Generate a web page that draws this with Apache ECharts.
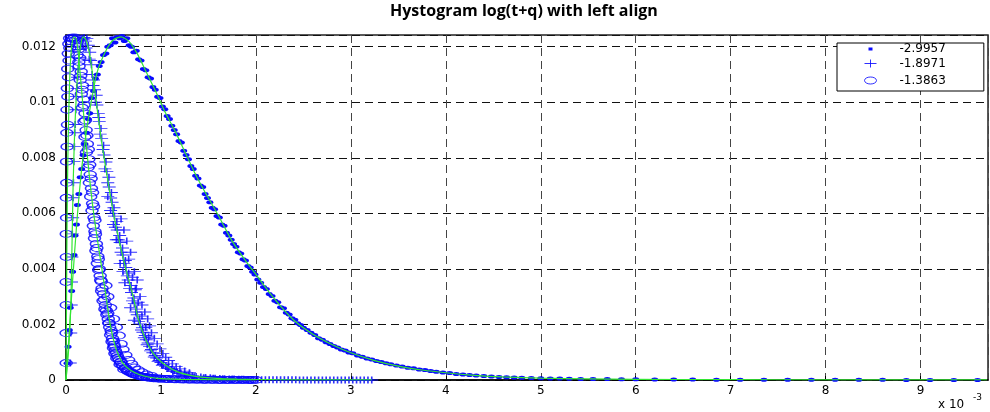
<!DOCTYPE html>
<html>
<head>
<meta charset="utf-8">
<script src="https://cdn.jsdelivr.net/npm/echarts@6/dist/echarts.min.js"></script>
<style>
  html, body { margin: 0; padding: 0; background: #fff; }
  #chart { width: 990px; height: 412px; }
</style>
</head>
<body>
<div id="chart"></div>
<script>
// Histograms of log(t+q), left-aligned bins.
// x values are in units of 1e-3 (axis shows "x 10^-3"), y values in units of 1e-3.

const titleText = 'Hystogram log(t+q) with left align';
const seriesNames = ['-2.9957', '-1.8971', '-1.3863'];
const xTickLabels = ['0', '1', '2', '3', '4', '5', '6', '7', '8', '9'];
const yTickLabels = ['0', '0.002', '0.004', '0.006', '0.008', '0.01', '0.012'];

// '.' markers  (-2.9957)
const dotPoints = [
  [0.012,0.6],[0.022,1.2],[0.035,1.8],[0.045,2.6],[0.06,3.2],[0.07,3.9],[0.085,4.5],[0.095,5.2],
  [0.11,5.6],[0.12,6.3],[0.135,6.7],[0.15,7.3],[0.165,7.6],[0.18,8.1],[0.2,8.5],[0.215,8.9],
  [0.235,9.4],[0.25,9.6],[0.27,10.15],[0.29,10.4],[0.31,10.85],[0.33,11.0],[0.35,11.3],[0.37,11.45],
  [0.395,11.7],[0.42,11.75],[0.44,12.0],[0.465,12.05],[0.49,12.3],[0.515,12.15],[0.54,12.35],[0.565,12.3],
  [0.59,12.38],[0.615,12.2],[0.64,12.3],[0.665,12.05],[0.69,12.0],[0.715,11.8],[0.74,11.85],[0.765,11.55],
  [0.79,11.5],[0.815,11.2],[0.84,11.15],[0.865,10.9],[0.89,10.85],[0.915,10.55],[0.94,10.45],[0.965,10.2],
  [0.99,10.15],[1.015,9.85],[1.04,9.75],[1.065,9.5],[1.09,9.4],[1.115,9.15],[1.14,9.0],[1.165,8.85],
  [1.19,8.6],[1.215,8.55],[1.24,8.25],[1.265,8.1],[1.29,7.95],[1.315,7.7],[1.34,7.6],[1.365,7.35],
  [1.39,7.25],[1.415,7.0],[1.44,6.95],[1.465,6.7],[1.49,6.55],[1.515,6.4],[1.54,6.2],[1.565,6.15],
  [1.59,5.9],[1.615,5.85],[1.64,5.6],[1.665,5.55],[1.69,5.3],[1.715,5.2],[1.74,5.05],[1.765,4.9],
  [1.79,4.8],[1.815,4.6],[1.84,4.55],[1.865,4.35],[1.89,4.3],[1.915,4.1],[1.94,4.05],[1.965,3.9],
  [1.99,3.8],[2.02,3.62],[2.05,3.5],[2.08,3.35],[2.11,3.28],[2.14,3.1],[2.17,3.02],[2.2,2.85],
  [2.23,2.8],[2.26,2.62],[2.29,2.58],[2.32,2.42],[2.35,2.36],[2.38,2.22],[2.41,2.17],[2.44,2.04],
  [2.47,1.98],[2.5,1.88],[2.54,1.8],[2.58,1.7],[2.62,1.62],[2.66,1.5],[2.7,1.45],[2.74,1.36],
  [2.78,1.3],[2.82,1.22],[2.86,1.17],[2.9,1.1],[2.94,1.06],[2.98,0.99],[3.02,0.96],[3.07,0.88],
  [3.12,0.84],[3.17,0.77],[3.22,0.74],[3.27,0.68],[3.32,0.65],[3.37,0.6],[3.42,0.57],[3.48,0.52],
  [3.54,0.49],[3.6,0.44],[3.66,0.42],[3.72,0.38],[3.78,0.36],[3.84,0.32],[3.9,0.3],[3.97,0.27],
  [4.04,0.25],[4.11,0.22],[4.18,0.2],[4.25,0.18],[4.32,0.16],[4.4,0.14],[4.48,0.13],[4.56,0.11],
  [4.64,0.1],[4.72,0.09],[4.8,0.08],[4.9,0.07],[5.0,0.065],[5.1,0.055],[5.2,0.05],[5.3,0.045],
  [5.42,0.04],[5.55,0.036],[5.7,0.032],[5.85,0.028],[6.0,0.025],[6.2,0.021],[6.4,0.018],[6.6,0.016],
  [6.85,0.013],[7.1,0.011],[7.35,0.01],[7.6,0.008],[7.85,0.007],[8.1,0.006],[8.35,0.005],[8.6,0.005],
  [8.85,0.004],[9.1,0.004],[9.35,0.003],[9.6,0.003]
];

// '+' markers  (-1.8971)
const plusPoints = [
  [0.045,0.61],[0.05,1.69],[0.055,2.7],[0.058,3.53],[0.062,4.43],[0.066,5.26],[0.07,5.84],[0.074,6.56],
  [0.078,7.1],[0.083,7.86],[0.088,8.4],[0.092,8.9],[0.097,9.2],[0.103,9.73],[0.11,10.2],[0.115,10.5],
  [0.122,10.9],[0.13,11.2],[0.138,11.6],[0.146,11.9],[0.155,12.1],[0.168,12.3],[0.18,12.25],[0.19,12.33],
  [0.205,12.2],[0.22,12.3],[0.235,12.05],[0.25,11.8],[0.245,11.55],[0.268,11.35],[0.275,11.0],[0.29,10.8],
  [0.3,10.45],[0.318,10.25],[0.325,9.9],[0.34,9.6],[0.35,9.3],[0.368,9.05],[0.375,8.7],[0.395,8.45],
  [0.4,8.1],[0.42,7.85],[0.43,7.5],[0.452,7.3],[0.455,6.95],[0.478,6.75],[0.485,6.4],[0.505,6.2],
  [0.51,5.9],[0.535,5.7],[0.54,5.4],[0.565,5.2],[0.57,4.95],[0.595,4.75],[0.6,4.5],[0.625,4.3],
  [0.63,4.05],[0.66,3.85],[0.655,3.6],[0.685,3.4],[0.69,3.15],[0.715,2.95],[0.72,2.75],[0.745,2.55],
  [0.75,2.35],[0.775,2.2],[0.78,2.02],[0.805,1.88],[0.81,1.72],[0.835,1.6],[0.845,1.45],[0.865,1.33],
  [0.88,1.2],[0.9,1.1],[0.915,0.98],[0.94,0.88],[0.955,0.79],[0.98,0.7],[1.0,0.63],[1.025,0.56],
  [1.05,0.49],[1.08,0.43],[1.11,0.38],[1.14,0.33],[1.17,0.29],[1.21,0.25],[1.25,0.21],[1.29,0.18],
  [1.33,0.15],[1.37,0.13],[1.42,0.11],[1.47,0.09],[1.52,0.08],[1.57,0.065],[1.62,0.055],[1.67,0.047],
  [1.72,0.04],[1.77,0.034],[1.82,0.029],[1.87,0.025],[1.92,0.021],[1.97,0.018],[2.02,0.016],[2.06,0.013],
  [2.1,0.012],[2.14,0.01],[2.18,0.009],[2.22,0.008],[2.26,0.007],[2.3,0.007],[2.34,0.006],[2.38,0.005],
  [2.42,0.005],[2.46,0.004],[2.5,0.004],[2.54,0.004],[2.58,0.003],[2.62,0.003],[2.66,0.003],[2.7,0.003],
  [2.74,0.002],[2.78,0.002],[2.82,0.002],[2.86,0.002],[2.9,0.002],[2.94,0.002],[2.98,0.001],[3.02,0.001],
  [3.06,0.001],[3.1,0.001],[3.14,0.001],[3.18,0.001],[3.22,0.001],
  [0.21,11.95],[0.26,11.5],[0.285,10.6],[0.31,10.0],[0.345,9.45],[0.36,8.85],[0.39,8.3],[0.41,7.6],
  [0.44,7.1],[0.47,6.55],[0.495,6.0],[0.52,5.5],[0.55,5.05],[0.58,4.6],[0.61,4.2],[0.645,3.75],
  [0.67,3.3],[0.70,2.85],[0.735,2.45],[0.765,2.1],[0.795,1.8],[0.825,1.52],[0.855,1.27],[0.89,1.05],
  [0.93,0.83],[0.97,0.67],[1.015,0.53],[1.065,0.41],[1.125,0.31],[1.19,0.23],[1.27,0.17],[1.35,0.12],
  [1.45,0.085],[1.55,0.06],[1.65,0.045],[1.75,0.033],[1.85,0.024],[1.95,0.017],
  [0.66,4.35],[0.7,3.7],[0.73,3.25],[0.76,2.8],[0.8,2.3],[0.57,4.2],[0.6,3.9],[0.62,3.5],
  [0.68,2.6],[0.72,2.15],[0.84,1.9],[0.87,1.55],[0.53,5.05],[0.5,5.6],[0.47,6.1],[0.44,6.6],
  [0.72,3.9],[0.75,3.6],[0.74,3.3],[0.78,3.0],[0.8,2.7],[0.83,2.45],[0.86,2.2],[0.88,1.95],
  [0.9,1.7],[0.93,1.5],[0.96,1.3],[0.99,1.12],[1.02,0.95],[1.05,0.82],[1.08,0.7],[1.12,0.58],
  [1.16,0.48],[1.2,0.4],[1.25,0.32],[1.3,0.26],[0.68,4.6],[0.64,5.0],[0.61,5.4],[0.58,5.8]
];

// 'o' markers  (-1.3863)
const circlePoints = [
  [0.002,0.61],[0.001,1.69],[0.003,2.7],[0.002,3.53],[0.004,4.43],[0.003,5.26],[0.006,5.84],[0.004,6.56],
  [0.008,7.1],[0.006,7.86],[0.012,8.4],[0.009,8.9],[0.016,9.19],[0.011,9.73],[0.02,10.2],[0.014,10.5],
  [0.026,10.9],[0.018,11.2],[0.032,11.5],[0.024,11.75],[0.04,11.95],[0.03,12.1],[0.05,12.2],[0.038,12.3],
  [0.06,12.32],[0.075,12.28],[0.088,12.33],[0.1,12.25],
  [0.11,12.1],[0.125,12.3],[0.13,11.9],[0.118,11.7],[0.145,11.6],[0.138,11.3],[0.16,11.1],[0.15,10.8],
  [0.175,10.6],[0.162,10.3],[0.185,10.1],[0.172,9.8],[0.2,9.6],[0.19,9.3],[0.212,9.0],[0.2,8.75],
  [0.225,8.5],[0.215,8.2],[0.24,7.95],[0.232,7.65],[0.255,7.4],[0.246,7.1],[0.268,6.9],[0.26,6.6],
  [0.28,6.35],[0.274,6.1],[0.295,5.85],[0.288,5.55],[0.305,5.35],[0.3,5.1],[0.32,4.9],[0.315,4.65],
  [0.335,4.45],[0.33,4.2],[0.35,4.0],[0.36,3.75],[0.372,3.55],[0.38,3.3],[0.395,3.1],[0.405,2.9],
  [0.415,2.7],[0.425,2.5],[0.43,2.35],[0.445,2.2],[0.45,2.05],[0.46,1.9],[0.475,1.78],[0.47,1.62],
  [0.49,1.5],[0.485,1.38],[0.505,1.27],[0.5,1.15],[0.52,1.06],[0.515,0.95],[0.54,0.88],[0.535,0.78],
  [0.56,0.72],[0.575,0.64],[0.57,0.56],[0.6,0.5],[0.62,0.44],[0.61,0.38],[0.645,0.34],[0.66,0.3],
  [0.68,0.26],[0.7,0.23],[0.72,0.2],[0.74,0.18],[0.77,0.15],[0.79,0.13],[0.82,0.11],[0.85,0.1],
  [0.88,0.08],[0.91,0.07],[0.94,0.06],[0.97,0.055],[1.0,0.05],[1.04,0.04],[1.08,0.036],[1.12,0.03],
  [1.16,0.025],[1.2,0.022],[1.24,0.02],[1.28,0.017],[1.32,0.015],[1.36,0.012],[1.4,0.012],[1.44,0.01],
  [1.48,0.009],[1.52,0.008],[1.56,0.007],[1.6,0.006],[1.64,0.006],[1.68,0.005],[1.72,0.004],[1.76,0.004],
  [1.8,0.003],[1.84,0.003],[1.88,0.003],[1.92,0.002],[1.96,0.002],[2.0,0.002],
  [0.12,12.0],[0.135,11.45],[0.155,10.95],[0.17,10.45],[0.19,9.9],[0.205,9.35],[0.22,8.8],[0.235,8.3],
  [0.25,7.75],[0.265,7.25],[0.28,6.75],[0.29,6.25],[0.305,5.75],[0.31,5.25],[0.325,4.75],[0.34,4.35],
  [0.345,3.95],[0.365,3.6],[0.375,3.2],[0.39,2.85],[0.41,2.55],[0.44,2.4],[0.455,2.05],[0.48,1.7],
  [0.5,1.4],[0.51,1.2],[0.53,0.98],[0.55,0.8],[0.58,0.66],[0.59,0.54],[0.63,0.42],[0.65,0.33],
  [0.69,0.28],[0.71,0.22],[0.75,0.17],[0.8,0.12],[0.86,0.09],[0.92,0.065],[0.99,0.05],[1.06,0.038],
  [1.14,0.028],[1.22,0.021],[1.3,0.016],[1.38,0.013],[1.46,0.01],[1.54,0.008],[1.62,0.006],[1.7,0.005],
  [1.78,0.004],[1.86,0.003],[1.94,0.002],
  [0.5,2.2],[0.53,1.9],[0.56,1.6],[0.58,1.3],[0.6,1.1],[0.63,0.9],[0.66,0.72],[0.69,0.58],
  [0.72,0.45],[0.76,0.36],[0.8,0.28],[0.85,0.2],[0.9,0.15],[0.47,2.6],[0.44,3.0],[0.42,3.4]
];

// fitted density curves (green)
const dotFit = [
  [0,0],[0.03,1.5],[0.07,3.6],[0.11,5.5],[0.15,7.1],[0.2,8.6],[0.27,10.1],[0.33,11.1],[0.42,11.85],
  [0.5,12.25],[0.58,12.35],[0.66,12.2],[0.75,11.75],[0.85,11.05],[0.95,10.35],[1.05,9.6],[1.15,8.95],
  [1.24,8.3],[1.35,7.5],[1.45,6.85],[1.6,5.95],[1.75,5.0],[1.9,4.25],[2.0,3.8],[2.2,2.9],[2.4,2.15],
  [2.6,1.65],[2.8,1.28],[3.0,0.98],[3.25,0.7],[3.5,0.5],[3.75,0.36],[4.0,0.26],[4.3,0.17],[4.6,0.11],
  [5.0,0.065],[5.5,0.04],[6.0,0.025],[7.0,0.012],[8.0,0.006],[9.0,0.004],[9.7,0.003]
];
const plusFit = [
  [0,0],[0.03,1.2],[0.05,2.6],[0.063,4.8],[0.075,7.0],[0.09,8.8],[0.108,10.2],[0.127,11.2],[0.152,12.0],
  [0.18,12.35],[0.21,12.25],[0.25,11.7],[0.3,10.5],[0.37,8.7],[0.43,7.4],[0.5,6.0],[0.58,4.7],[0.63,4.0],
  [0.7,3.1],[0.77,2.1],[0.84,1.45],[0.92,0.95],[1.02,0.6],[1.17,0.3],[1.35,0.14],[1.55,0.07],[1.8,0.03],
  [2.2,0.01],[2.7,0.004],[3.22,0.001]
];
const circleFit = [
  [0,0],[0.004,2.0],[0.008,4.2],[0.012,6.0],[0.018,7.6],[0.025,9.0],[0.035,10.4],[0.048,11.5],[0.065,12.15],
  [0.085,12.35],[0.105,12.3],[0.125,11.9],[0.15,11.0],[0.175,10.0],[0.21,8.6],[0.25,7.2],[0.28,6.3],
  [0.32,5.3],[0.36,4.4],[0.4,3.5],[0.43,2.8],[0.465,2.0],[0.5,1.45],[0.54,1.0],[0.6,0.6],[0.68,0.35],
  [0.77,0.2],[0.88,0.1],[1.0,0.05],[1.2,0.025],[1.45,0.011],[1.7,0.005],[2.0,0.002]
];

const BLUE = '#0a0aff';
const GREEN = '#33e633';
const LABEL_FONT = 'DejaVu Sans';

const plusSymbol = 'path://M0,5H10M5,0V10';
// legend icons: a transparent 48x12 frame keeps the glyph small and centred
const legendDot = 'path://M0,0M48,12M22,4.5h4v3h-4z';
const legendPlus = 'path://M0,0M48,12M18,6H30M24,2V10';
const legendCircle = 'path://M0,0M48,12M18,6a6,3.5 0 1,0 12,0a6,3.5 0 1,0 -12,0z';

const chart = echarts.init(document.getElementById('chart'), null, { renderer: 'canvas' });

const fitLine = (data) => ({
  type: 'line',
  data: data,
  smooth: 0.25,
  showSymbol: false,
  symbol: 'none',
  silent: true,
  z: 5,
  lineStyle: { color: GREEN, width: 1.2 },
  animation: false
});

chart.setOption({
  backgroundColor: '#fff',
  animation: false,
  title: {
    text: titleText,
    left: 390,
    top: 3,
    padding: 0,
    textStyle: { fontFamily: 'Open Sans', fontWeight: 'bold', fontSize: 16, color: '#000' }
  },
  grid: {
    left: 66, right: 2, top: 35, bottom: 32,
    show: true, borderColor: '#222', borderWidth: 1.5, backgroundColor: '#fff'
  },
  legend: {
    orient: 'vertical',
    left: 837, top: 43,
    itemWidth: 48, itemHeight: 12, itemGap: 0,
    padding: [0, 38, 2, 7],
    backgroundColor: '#fff',
    borderColor: '#000', borderWidth: 1, borderRadius: 0,
    selectedMode: false,
    textStyle: { fontFamily: LABEL_FONT, fontSize: 12, color: '#000', lineHeight: 12 },
    data: [
      { name: seriesNames[0], icon: legendDot, itemStyle: { color: BLUE, borderWidth: 0 } },
      { name: seriesNames[1], icon: legendPlus, itemStyle: { color: 'none', borderColor: BLUE, borderWidth: 1 } },
      { name: seriesNames[2], icon: legendCircle, itemStyle: { color: 'none', borderColor: BLUE, borderWidth: 1 } }
    ]
  },
  xAxis: {
    type: 'value',
    min: 0, max: 9.71, interval: 1,
    axisLine: { show: true, lineStyle: { color: '#000', width: 1.5 } },
    axisTick: { show: true, inside: true, length: 4, lineStyle: { color: '#000' } },
    axisLabel: {
      margin: 5, color: '#000', fontFamily: LABEL_FONT, fontSize: 12,
      showMaxLabel: false,
      formatter: (v) => xTickLabels[Math.round(v)] || ''
    },
    splitLine: { show: true, lineStyle: { color: '#444', type: [8, 5], width: 1 } }
  },
  yAxis: {
    type: 'value',
    min: 0, max: 12.42, interval: 2,
    axisLine: { show: true, lineStyle: { color: '#000', width: 1.5 } },
    axisTick: { show: true, inside: true, length: 4, lineStyle: { color: '#000' } },
    axisLabel: {
      margin: 10, color: '#000', fontFamily: LABEL_FONT, fontSize: 12,
      showMaxLabel: false,
      formatter: (v) => yTickLabels[Math.round(v / 2)] || ''
    },
    splitLine: { show: true, lineStyle: { color: '#111', type: [8, 5], width: 1 } }
  },
  graphic: [
    { type: 'text', left: 938, top: 399, silent: true,
      style: { text: 'x 10', font: '12px "DejaVu Sans"', fill: '#000' } },
    { type: 'text', left: 973, top: 393, silent: true,
      style: { text: '-3', font: '9px "DejaVu Sans"', fill: '#000' } }
  ],
  series: [
    {
      name: seriesNames[0], type: 'scatter', data: dotPoints,
      symbol: 'circle', symbolSize: [7, 4], z: 3,
      itemStyle: { color: BLUE, opacity: 1 }
    },
    {
      name: seriesNames[1], type: 'scatter', data: plusPoints,
      symbol: plusSymbol, symbolSize: [13, 7], z: 3,
      itemStyle: { color: 'none', borderColor: BLUE, borderWidth: 1.2, opacity: 0.85 }
    },
    {
      name: seriesNames[2], type: 'scatter', data: circlePoints,
      symbol: 'circle', symbolSize: [12, 7], z: 3,
      itemStyle: { color: 'rgba(0,0,0,0)', borderColor: BLUE, borderWidth: 1.2, opacity: 0.85 }
    },
    fitLine(dotFit),
    fitLine(plusFit),
    fitLine(circleFit)
  ]
});
</script>
</body>
</html>
